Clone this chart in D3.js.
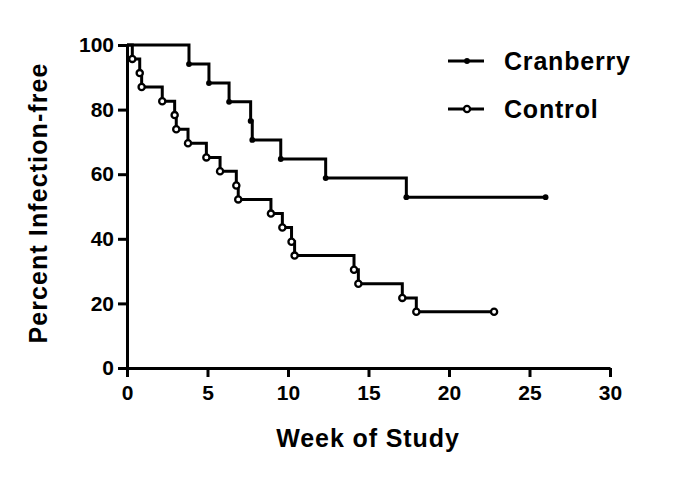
<!DOCTYPE html>
<html><head><meta charset="utf-8">
<script src="https://cdn.jsdelivr.net/npm/d3@7"></script>
<style>body{margin:0;background:#fff}svg{display:block}</style>
</head><body>
<script>
const xTicks = [0, 5, 10, 15, 20, 25, 30];
const yTicks = [0, 20, 40, 60, 80, 100];
const seriesNames = ["Cranberry", "Control"];
const cranTimes = [3.85, 5.09, 6.34, 7.68, 7.78, 9.55, 12.34, 17.35];
const cranValues = [94.1, 88.2, 82.4, 76.5, 70.6, 64.7, 58.8, 52.9];
const cranEnd = 26.0;
const ctrlTimes = [0.33, 0.79, 0.91, 2.19, 2.96, 3.06, 3.79, 4.93, 5.78, 6.79, 6.91, 8.94, 9.65, 10.22, 10.41, 14.1, 14.37, 17.1, 17.97];
const ctrlValues = [95.7, 91.3, 87.0, 82.6, 78.3, 73.9, 69.6, 65.2, 60.9, 56.5, 52.2, 47.8, 43.5, 39.1, 34.8, 30.4, 26.1, 21.7, 17.4];
const ctrlEnd = 22.8;

const W = 685, H = 477;
const m = {left: 127, top: 45, right: 75, bottom: 109};
const iw = W - m.left - m.right, ih = H - m.top - m.bottom;
const font = "'Liberation Sans', Arial, sans-serif";

const svg = d3.select("body").append("svg").attr("width", W).attr("height", H);
const g = svg.append("g").attr("transform", `translate(${m.left},${m.top})`);
const x = d3.scaleLinear().domain([0, 30]).range([0, iw]);
const y = d3.scaleLinear().domain([0, 100]).range([ih, 0]);

const xa = g.append("g").attr("transform", `translate(0,${ih})`)
  .call(d3.axisBottom(x).tickValues(xTicks).tickSize(9).tickPadding(8).tickSizeOuter(0));
const ya = g.append("g")
  .call(d3.axisLeft(y).tickValues(yTicks).tickSize(9).tickPadding(4).tickSizeOuter(0));
[xa, ya].forEach(a => {
  a.selectAll("path, line").attr("stroke", "#000").attr("stroke-width", 3);
  a.selectAll("text").attr("fill", "#000").attr("font-family", font)
    .attr("font-weight", "bold").attr("font-size", 21);
});

svg.append("text").attr("x", 368).attr("y", 447).attr("text-anchor", "middle")
  .attr("font-family", font).attr("font-weight", "bold").attr("font-size", 25)
  .attr("letter-spacing", 0.9).text("Week of Study");
svg.append("text").attr("transform", `translate(47,203) rotate(-90)`)
  .attr("text-anchor", "middle").attr("font-family", font).attr("font-weight", "bold")
  .attr("font-size", 25).attr("letter-spacing", 1.1).text("Percent Infection-free");

const line = d3.line().x(d => x(d[0])).y(d => y(d[1])).curve(d3.curveStepAfter);
function build(times, vals, end) {
  const pts = [[0, 100]];
  times.forEach((t, i) => pts.push([t, vals[i]]));
  pts.push([end, vals[vals.length - 1]]);
  return pts;
}
const cran = build(cranTimes, cranValues, cranEnd);
const ctrl = build(ctrlTimes, ctrlValues, ctrlEnd);

[ctrl, cran].forEach(p => g.append("path").datum(p).attr("d", line)
  .attr("fill", "none").attr("stroke", "#000").attr("stroke-width", 3));

g.selectAll(".cm").data(cran.slice(1)).join("circle")
  .attr("cx", d => x(d[0])).attr("cy", d => y(d[1])).attr("r", 2.9).attr("fill", "#000");
g.selectAll(".om").data(ctrl.slice(1)).join("circle")
  .attr("cx", d => x(d[0])).attr("cy", d => y(d[1])).attr("r", 3.1)
  .attr("fill", "#fff").attr("stroke", "#000").attr("stroke-width", 2.3);

// legend
const leg = [{y: 61, name: seriesNames[0], open: false}, {y: 109, name: seriesNames[1], open: true}];
leg.forEach(l => {
  svg.append("line").attr("x1", 448).attr("x2", 484).attr("y1", l.y).attr("y2", l.y)
    .attr("stroke", "#000").attr("stroke-width", 3);
  svg.append("circle").attr("cx", 467).attr("cy", l.y).attr("r", l.open ? 3.1 : 2.9)
    .attr("fill", l.open ? "#fff" : "#000").attr("stroke", l.open ? "#000" : "none").attr("stroke-width", 2.3);
  svg.append("text").attr("x", 504).attr("y", l.y + 9).attr("font-family", font)
    .attr("font-weight", "bold").attr("font-size", 25).attr("letter-spacing", 0.8).text(l.name);
});
</script>
</body></html>
